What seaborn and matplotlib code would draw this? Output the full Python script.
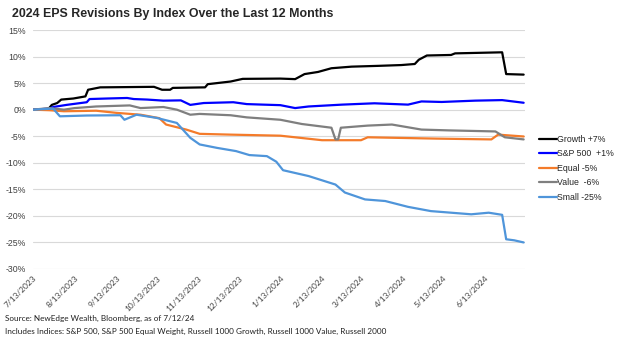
import numpy as np
import pandas as pd
import matplotlib
matplotlib.use("Agg")
import matplotlib.pyplot as plt
import matplotlib.dates as mdates
from matplotlib.lines import Line2D
import seaborn as sns

start = pd.Timestamp("2023-07-13")

# Day offsets from 7/13/2023 and EPS revision (%)
growth_days = [0, 11, 14, 18, 21, 30, 39, 41, 50, 90, 96, 102, 104, 128, 130, 147, 156, 184, 195, 202, 212, 222, 237, 257, 274, 284, 287, 293, 311, 314, 349, 352, 365]
growth_vals = [0, 0, 0.9, 1.25, 1.9, 2.1, 2.5, 3.75, 4.2, 4.3, 3.75, 3.75, 4.1, 4.2, 4.8, 5.3, 5.8, 5.85, 5.75, 6.7, 7.1, 7.8, 8.1, 8.25, 8.4, 8.6, 9.4, 10.2, 10.3, 10.6, 10.8, 6.7, 6.6]

sp_days = [0, 12, 15, 25, 40, 42, 55, 70, 75, 85, 97, 110, 117, 127, 149, 159, 171, 184, 195, 205, 230, 254, 279, 289, 304, 329, 349, 365]
sp_vals = [0, 0.2, 0.5, 0.9, 1.4, 2.0, 2.1, 2.2, 2.0, 1.9, 1.7, 1.75, 0.9, 1.25, 1.4, 1.05, 0.95, 0.85, 0.3, 0.6, 0.95, 1.2, 0.95, 1.55, 1.45, 1.7, 1.8, 1.3]

equal_days = [0, 12, 23, 47, 62, 80, 94, 99, 114, 124, 147, 184, 215, 244, 249, 300, 341, 346, 365]
equal_vals = [0, -0.1, -0.3, -0.2, -0.6, -0.95, -1.6, -2.8, -3.75, -4.55, -4.7, -4.9, -5.75, -5.75, -5.2, -5.45, -5.6, -4.7, -5.05]

value_days = [0, 12, 23, 31, 47, 72, 80, 97, 107, 117, 124, 147, 159, 184, 200, 222, 225, 227, 229, 249, 267, 289, 309, 344, 351, 365]
value_vals = [0, 0.3, 0, 0.3, 0.6, 0.8, 0.3, 0.5, 0, -0.95, -0.8, -1.05, -1.45, -1.9, -2.7, -3.4, -5.6, -5.6, -3.4, -3.0, -2.8, -3.75, -3.9, -4.1, -5.2, -5.6]

small_days = [0, 15, 20, 40, 65, 68, 77, 92, 107, 117, 124, 137, 151, 161, 174, 181, 186, 205, 225, 232, 247, 262, 279, 296, 326, 339, 349, 352, 358, 365]
small_vals = [0, 0.2, -1.25, -1.1, -1.05, -1.9, -0.95, -1.55, -2.5, -5.3, -6.55, -7.2, -7.8, -8.55, -8.75, -9.8, -11.4, -12.5, -14.1, -15.6, -16.9, -17.2, -18.3, -19.1, -19.7, -19.4, -19.8, -24.4, -24.6, -25.0]

series_names = ["Growth", "S&P 500", "Equal", "Value", "Small"]
legend_labels = ["Growth +7%", "S&P 500  +1%", "Equal -5%", "Value  -6%", "Small -25%"]
colors = ["#000000", "#0000FF", "#F47B2A", "#7F7F7F", "#4F95DA"]

tick_labels = ["7/13/2023", "8/13/2023", "9/13/2023", "10/13/2023", "11/13/2023", "12/13/2023",
               "1/13/2024", "2/13/2024", "3/13/2024", "4/13/2024", "5/13/2024", "6/13/2024"]
y_ticks = [15, 10, 5, 0, -5, -10, -15, -20, -25, -30]

title = "2024 EPS Revisions By Index Over the Last 12 Months"
footer1 = "Source: NewEdge Wealth, Bloomberg, as of 7/12/24"
footer2 = "Includes Indices: S&P 500, S&P 500 Equal Weight, Russell 1000 Growth, Russell 1000 Value, Russell 2000"

frames = []
for name, d, v in [("Growth", growth_days, growth_vals), ("S&P 500", sp_days, sp_vals),
                   ("Equal", equal_days, equal_vals), ("Value", value_days, value_vals),
                   ("Small", small_days, small_vals)]:
    frames.append(pd.DataFrame({"date": start + pd.to_timedelta(d, unit="D"), "value": v, "series": name}))
df = pd.concat(frames, ignore_index=True)

sns.set_theme(style="white")
plt.rcParams["font.family"] = ["Liberation Sans", "DejaVu Sans"]

fig = plt.figure(figsize=(6.24, 3.41), dpi=100)
ax = fig.add_axes([33/624, 1 - 269/341, (525-33)/624, (269-30)/341])

palette = dict(zip(series_names, colors))
sns.lineplot(data=df, x="date", y="value", hue="series", hue_order=series_names,
             palette=palette, estimator=None, sort=False, linewidth=1.6, ax=ax, legend=False)

ax.set_ylim(-30, 15)
ax.set_xlim(start, start + pd.Timedelta(days=366))
ax.set_yticks(y_ticks)
ax.set_yticklabels([f"{t}%" for t in y_ticks], fontsize=6.3, color="#404040")
ax.yaxis.grid(True, color="#D9D9D9", linewidth=0.8)
ax.xaxis.grid(False)
ax.set_axisbelow(True)
for s in ax.spines.values():
    s.set_visible(False)

tick_dates = [pd.Timestamp(t) for t in pd.to_datetime(tick_labels, format="%m/%d/%Y")]
ax.set_xticks(tick_dates)
ax.set_xticklabels(tick_labels, rotation=45, ha="right", rotation_mode="anchor",
                   fontsize=6.0, family=["Lato", "DejaVu Sans"], color="#404040")
ax.tick_params(axis="x", length=0, pad=4)
ax.tick_params(axis="y", length=0, pad=5)
ax.set_xlabel("")
ax.set_ylabel("")

handles = [Line2D([0], [0], color=c, linewidth=1.6) for c in colors]
leg = fig.legend(handles, legend_labels, loc="upper left", bbox_to_anchor=(539/624, 1 - 135/341),
                 frameon=False, fontsize=6.3, handlelength=2.0, handletextpad=0.1,
                 labelspacing=0.62, borderaxespad=0, borderpad=0)

fig.text(12/624, 1 - 14/341, title, fontsize=8.95, fontweight="bold", va="center", ha="left")
fig.text(5/624, 1 - 318/341, footer1, fontsize=5.9, family=["Lato", "DejaVu Sans"], va="center", ha="left", color="#202020")
fig.text(5/624, 1 - 331/341, footer2, fontsize=5.9, family=["Lato", "DejaVu Sans"], va="center", ha="left", color="#202020")

fig.savefig("out.png", dpi=100)
